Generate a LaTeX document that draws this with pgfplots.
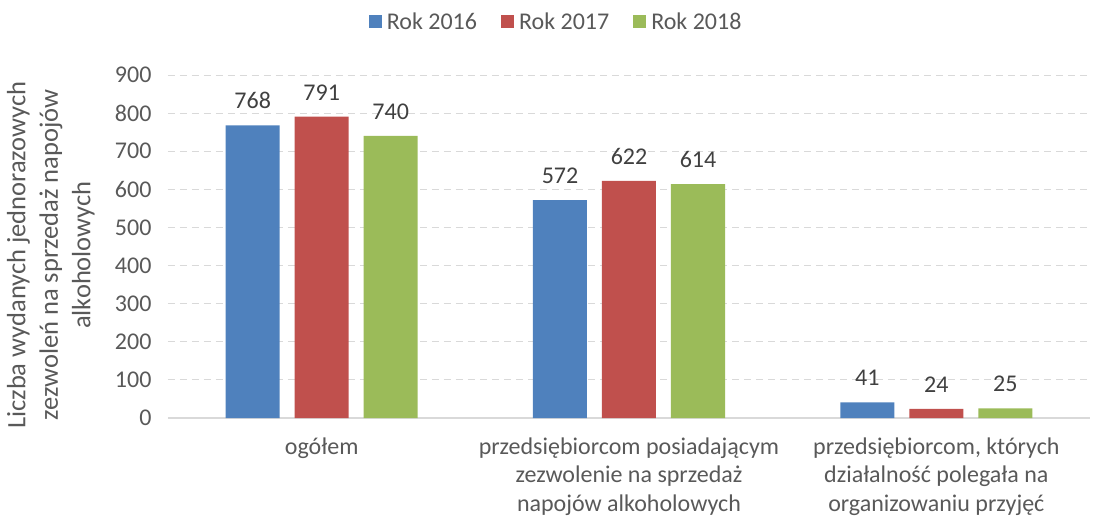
\documentclass[border=0pt]{standalone}
\usepackage{fontspec}
\setmainfont{Carlito}
\usepackage{pgfplots}
\pgfplotsset{compat=1.18}
\definecolor{c16}{HTML}{4F81BD}
\definecolor{c17}{HTML}{C0504D}
\definecolor{c18}{HTML}{9BBB59}
\definecolor{txt}{HTML}{595959}
\definecolor{lbl}{HTML}{404040}
\definecolor{grd}{HTML}{D9D9D9}
\begin{document}
\begin{tikzpicture}
\path[use as bounding box] (-168pt,-102pt) rectangle (925pt,418pt);
\begin{axis}[
  scale only axis, width=922pt, height=343pt,
  ybar=15pt, bar width=54pt,
  xmin=-0.5, xmax=2.5, ymin=0, ymax=900,
  ytick={0,100,...,900},
  xtick={0,1,2},
  xticklabels={ogółem,{przedsiębiorcom posiadającym\\zezwolenie na sprzedaż\\napojów alkoholowych},{przedsiębiorcom, których\\działalność polegała na\\organizowaniu przyjęć}},
  axis x line*=bottom, axis y line*=left,
  y axis line style={draw=none},
  x axis line style={grd, line width=1.2pt},
  major tick length=0pt,
  ymajorgrids,
  grid style={grd, line width=1pt, dash pattern=on 7pt off 5pt},
  /pgf/number format/assume math mode=true,
  yticklabel style={font=\fontsize{24}{29}\selectfont, text=txt, xshift=-13pt},
  xticklabel style={font=\fontsize{24}{28.5}\selectfont, text=txt, align=center, yshift=-16pt},
  ylabel={Liczba wydanych jednorazowych\\zezwoleń na sprzedaż napojów\\alkoholowych},
  ylabel style={font=\fontsize{26.5}{32.5}\selectfont, text=txt, align=center, at={(axis description cs:-0.127,0.475)}, anchor=center},
  nodes near coords,
  every node near coord/.append style={font=\fontsize{24}{29}\selectfont, text=lbl, yshift=13pt},
  legend style={at={(0.421,1.155)}, anchor=center, legend columns=3, draw=none, fill=none,
    font=\fontsize{24}{29}\selectfont, text=txt,
    /tikz/every odd column/.append style={column sep=3pt},
    /tikz/every even column/.append style={column sep=22pt}},
  legend image code/.code={\fill[#1] (0pt,-6.5pt) rectangle (13pt,6.5pt);},
]
\addplot[fill=c16, draw=none] coordinates {(0,768) (1,572) (2,41)};
\addplot[fill=c17, draw=none] coordinates {(0,791) (1,622) (2,24)};
\addplot[fill=c18, draw=none] coordinates {(0,740) (1,614) (2,25)};
\legend{Rok 2016,Rok 2017,Rok 2018}
\end{axis}
\end{tikzpicture}
\end{document}
